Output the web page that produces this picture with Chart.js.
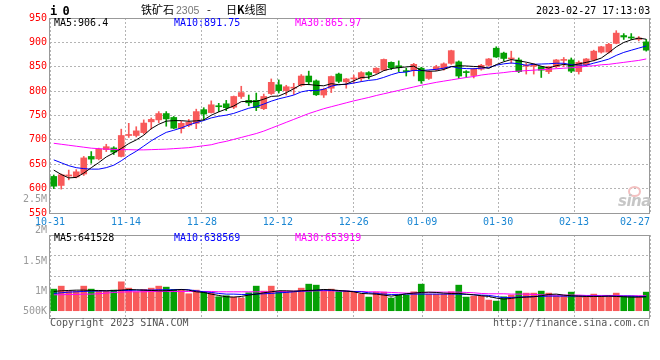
<!DOCTYPE html>
<html>
<head>
<meta charset="utf-8">
<script src="https://cdn.jsdelivr.net/npm/chart.js@4.4.0/dist/chart.umd.min.js"></script>
<style>
body { margin: 0; background: #fff; }
#wrap { position: relative; width: 660px; height: 360px; font-family: 'DejaVu Sans Mono', monospace; font-size: 10px; overflow: hidden; }
#wrap canvas { position: absolute; left: 0; }
.t { position: absolute; white-space: pre; line-height: 12px; }
.vl { position: absolute; left: 0; width: 47px; text-align: right; color: #9a9a9a; line-height: 12px; }
</style>
</head>
<body>
<div id="wrap">
  <canvas id="priceChart" width="660" height="232" style="top:0"></canvas>
  <canvas id="volumeChart" width="660" height="96" style="top:226px"></canvas>
  <div class="t" style="left:50px;top:4px;font-weight:bold;font-size:12px;line-height:14px;letter-spacing:-1px">i 0</div>
  <div class="t" style="left:141px;top:3px;font-family:'Noto Sans CJK SC';font-size:11px;line-height:13px">铁矿石</div>
  <div class="t" style="left:176px;top:4px;font-family:'Liberation Sans';font-size:10.5px;color:#777">2305</div>
  <div class="t" style="left:207px;top:3px;font-family:'Noto Sans CJK SC';font-size:11px;line-height:13px">-</div>
  <div class="t" style="left:226px;top:3px;font-family:'Noto Sans CJK SC';font-size:11px;line-height:13px">日<b>K</b>线图</div>
  <div class="t" style="left:536px;top:5px">2023-02-27 17:13:03</div>
  <div id="priceLegend"></div>
  <div id="volumeLegend"></div>
  <div id="volumeTicks"></div>
  <div class="t" style="left:628px;top:186px;width:9px;height:7px;border:2px solid #f3c0c0;border-radius:50%"></div>
  <div class="t" style="left:618px;top:193px;font-family:'DejaVu Sans';font-weight:bold;font-style:italic;font-size:15px;line-height:16px;color:#c6c6c6;letter-spacing:-0.5px">sina</div>
  <div class="t" style="left:50px;top:317px;color:#555">Copyright 2023 SINA.COM</div>
  <div class="t" style="left:493px;top:317px;color:#555">http://finance.sina.com.cn</div>
</div>
<script>
// trading days shown on the x axis
const days = ['10-31','11-01','11-02','11-03','11-04','11-07','11-08','11-09','11-10','11-11',
    '11-14','11-15','11-16','11-17','11-18','11-21','11-22','11-23','11-24','11-25',
    '11-28','11-29','11-30','12-01','12-02','12-05','12-06','12-07','12-08','12-09',
    '12-12','12-13','12-14','12-15','12-16','12-19','12-20','12-21','12-22','12-23',
    '12-26','12-27','12-28','12-29','12-30','01-03','01-04','01-05','01-06','01-09',
    '01-10','01-11','01-12','01-13','01-16','01-17','01-18','01-19','01-20','01-30',
    '01-31','02-01','02-02','02-03','02-06','02-07','02-08','02-09','02-10','02-13',
    '02-14','02-15','02-16','02-17','02-20','02-21','02-22','02-23','02-24','02-27'];
const dateTicks = ['10-31','11-14','11-28','12-12','12-26','01-09','01-30','02-13','02-27'];

const opens = [625,606.5,626,624,630,666,661,680,683.5,666, 709,709,715,737,741,754,746,723,730,734,
    762,756,769,774,767,789,781,781,764,795, 813,801,806,812,831,821,792,806,835,819,
    825,826,838,838,843,859,852,841,842,847, 826,844,846,857,860,839,832,845,853,888,
    878,866,864,851,851,850,840,850,863,864, 840,854,864,880,880,898,914,911,906,901];
const highs = [628,630,638,639,666,676,683,691,686,722, 734,727,741,745,758,758,748,738,742,763,
    766,780,775,781,790,810,792,796,794,825, 823,812,816,834,841,823,806,831,837,826,
    833,840,840,848,866,860,862,847,857,849, 842,853,858,884,862,842,847,855,867,891,
    880,882,868,857,856,851,851,865,869,868, 862,867,884,892,898,924,918,918,912,906];
const lows = [600,599,618,622,627,652,659,676,670,665, 705,706,712,722,735,728,723,714,727,723,
    741,755,758,760,764,785,770,760,762,793, 796,792,793,810,813,791,787,797,817,806,
    816,820,825,836,842,844,840,831,831,816, 824,842,843,855,826,828,827,843,851,869,
    862,857,838,835,835,828,836,848,850,838, 835,852,862,878,878,897,906,906,903,882];
const closes = [605,628.5,628,634.5,663,660.5,681,686,675,709, 711,718.5,734.5,742,754,743,724,734,736,758,
    753,772,768,766,789,797,776,766,789,818, 801,809,808,831,819,792.5,804,830,820,825,
    827,838,833,847,865,848,848,840,855,821, 840,850,856,883,831,838,845,853,866,870,
    867,868,840,852,852,843,850,864,865,841, 859,866,882,891,896,919,911,909,909,884];

const ma5 = [638,629,622,623,631.8,642.9,653.4,665,673.1,682.3, 692.4,699.9,709.6,723,732,738.4,739.5,739.4,738.2,739,
    741,750.6,757.4,763.4,769.6,778.4,779.2,778.8,783.4,789.2, 790,796.6,805,813.4,813.6,811.9,810.9,815.3,813.1,814.3,
    821.2,828,828.6,834,842,846.2,848.2,849.6,851.2,842.4, 840.8,841.2,844.4,850,852,851.6,850.6,850,846.6,854.4,
    860.2,864.8,862.2,859.4,855.8,851,847.4,852.2,854.8,852.6, 855.8,859,862.6,867.8,878.8,890.8,899.8,905.2,908.8,906.4];
const ma10 = [659,653,647,643,641,640,640,643,648,657.1, 667.7,676.7,687.3,698.1,707.2,715.4,719.7,724.5,730.6,735.5,
    739.7,745.1,748.4,750.8,754.3,759.7,764.9,768.1,773.4,779.4, 784.2,787.9,791.9,798.4,801.4,801,803.8,810.2,813.3,814,
    816.6,819.5,822,823.6,828.2,833.7,838.1,839.1,842.6,842.2, 843.5,844.7,847,850.6,847.2,846.2,845.9,847.2,848.3,853.2,
    855.9,857.7,856.1,853,855.1,855.6,856.1,857.2,857.1,854.2, 853.4,853.2,857.4,861.3,865.7,873.3,879.4,883.9,888.3,892.6];
const ma30 = [693,691,689,687,685,683,682,681,680.5,680, 680,679.5,679.5,680,680.5,681,682,683,684,686,
    688,690,694,697,701,705,709,713,718,724, 730,736,742,748,754,759,764,768,772,776,
    780,783.5,787,791,794.5,798,801.5,805,808.5,812, 815,818,820.5,823,825.5,828,830,833,835,836.5,
    838,840,841,842,843,844,845,846,847,848, 849,851,852,854,855,857,859,861,863,866];

// volume, thousand lots
const volumes = [910,1036,826,826,1036,910,826,826,868,1218, 952,798,896,952,1036,994,896,896,714,868,
    798,756,588,630,574,532,756,1036,826,1036, 826,798,798,952,1120,1078,868,910,812,840,
    812,700,574,784,784,532,658,658,798,1120, 700,700,700,798,1078,574,616,616,448,406,
    588,658,826,742,742,826,742,630,630,784, 630,630,700,616,616,742,616,616,616,784];
const volMa5 = [812,840,854,868,868,854,854,840,854,868, 896,882,868,854,840,840,868,896,868,798,
    770,700,644,588,574,602,658,700,756,798, 840,840,826,840,854,868,896,882,854,826,
    798,728,714,700,658,616,658,714,742,770, 784,770,742,728,728,700,672,630,602,532,
    490,518,560,574,588,630,686,700,658,630, 616,602,602,602,616,602,588,574,574,588];
const volMa10 = [728,756,784,798,812,826,826,840,840,854, 854,868,868,868,882,882,882,896,882,840,
    798,770,728,700,700,686,686,700,714,728, 756,770,798,826,840,854,868,854,840,826,
    812,798,756,728,700,686,686,700,700,700, 700,700,700,700,700,686,672,658,644,602,
    546,560,574,588,602,602,616,616,616,616, 616,616,616,616,616,616,616,616,602,602];
const volMa30 = [672,672,686,686,700,700,714,742,770,784, 798,798,798,812,812,812,812,812,812,812,
    812,812,798,798,798,798,798,798,798,798, 812,812,826,826,826,840,840,840,826,826,
    812,812,798,798,784,770,756,742,742,756, 770,784,784,784,784,770,756,728,714,714,
    714,700,700,700,686,672,658,658,658,658, 658,644,644,644,644,644,630,630,630,630];

const priceLegend = ['MA5:906.4', 'MA10:891.75', 'MA30:865.97'];
const volumeLegend = ['MA5:641528', 'MA10:638569', 'MA30:653919'];
const volumeTickLabels = ['2.5M', '2M', '1.5M', '1M', '500K'];

const upColor = '#f85a5a';
const downColor = '#05a005';
const maColors = ['#000000', '#0000ff', '#ff00ff'];
const gridColor = '#b4b4b4';
const frameColor = '#999999';
const dateColor = '#1b87d3';

Chart.defaults.font.family = 'DejaVu Sans Mono';
Chart.defaults.font.size = 10;

const tickIndex = dateTicks.map(d => days.indexOf(d));
const barColors = opens.map((o, i) => closes[i] >= o ? upColor : downColor);

// box round the plot
const framePlugin = {
    id: 'frame',
    afterDatasetsDraw(chart) {
        const a = chart.chartArea;
        const ctx = chart.ctx;
        const x0 = Math.round(a.left) - 0.5, x1 = Math.round(a.right) - 0.5;
        const y0 = Math.round(a.top) + 0.5, y1 = Math.round(a.bottom) + 0.5;
        ctx.save();
        ctx.strokeStyle = frameColor;
        ctx.lineWidth = 1;
        ctx.strokeRect(x0, y0, x1 - x0, y1 - y0);
        ctx.restore();
    }
};

function dateAxis(showLabels, height) {
    return {
        type: 'linear',
        position: 'bottom',
        min: 0,
        max: days.length - 1,
        offset: false,
        afterBuildTicks: s => { s.ticks = tickIndex.map(v => ({ value: v })); },
        afterFit: s => { s.height = height; s.paddingLeft = 0; s.paddingRight = 0; },
        grid: { color: gridColor, drawTicks: false, offset: false },
        border: { display: false, dash: [2, 2] },
        ticks: {
            display: showLabels,
            autoSkip: false,
            maxRotation: 0,
            padding: 3,
            color: dateColor,
            callback: v => v === days.length - 1 ? days[v] + '     ' : days[v]
        }
    };
}

function maLine(label, values, color) {
    return {
        type: 'line',
        label: label,
        data: values,
        borderColor: color,
        borderWidth: 1,
        pointRadius: 0,
        tension: 0,
        order: 0
    };
}

function writeLegend(id, texts, top) {
    const lefts = [54, 174, 295];
    document.getElementById(id).innerHTML = texts.map((t, i) =>
        '<div class="t" style="left:' + lefts[i] + 'px;top:' + top + 'px;color:' + maColors[i] + '">' + t + '</div>').join('');
}

function managePriceChart() {
    //candles
    let ctxP = document.getElementById('priceChart').getContext('2d');
    let priceChart = new Chart(ctxP, {
        type: 'bar',
        data: {
            labels: days,
            datasets: [
                maLine('MA5', ma5, maColors[0]),
                maLine('MA10', ma10, maColors[1]),
                maLine('MA30', ma30, maColors[2]),
                {
                    label: 'body',
                    data: opens.map((o, i) => [o, closes[i]]),
                    backgroundColor: barColors,
                    barThickness: 6,
                    minBarLength: 1,
                    grouped: false,
                    order: 1
                },
                {
                    label: 'wick',
                    data: lows.map((l, i) => [l, highs[i]]),
                    backgroundColor: barColors,
                    barThickness: 1,
                    grouped: false,
                    order: 2
                }
            ]
        },
        options: {
            responsive: false,
            animation: false,
            events: [],
            layout: { padding: { left: 0, right: 10, top: 18, bottom: 0 } },
            plugins: { legend: { display: false }, tooltip: { enabled: false } },
            scales: {
                x: { type: 'category', offset: true, display: false },
                xg: dateAxis(true, 19),
                y: {
                    min: 550,
                    max: 950,
                    afterFit: s => { s.width = 50; },
                    grid: { color: gridColor, drawTicks: false },
                    border: { display: false, dash: [2, 2] },
                    ticks: { stepSize: 50, color: '#ff0000', padding: 3 }
                }
            }
        },
        plugins: [framePlugin]
    });
    writeLegend('priceLegend', priceLegend, 17);
}

function manageVolumeChart() {
    //volume bars
    let ctxV = document.getElementById('volumeChart').getContext('2d');
    let volumeChart = new Chart(ctxV, {
        type: 'bar',
        data: {
            labels: days,
            datasets: [
                maLine('MA5', volMa5, maColors[0]),
                maLine('MA10', volMa10, maColors[1]),
                maLine('MA30', volMa30, maColors[2]),
                {
                    label: 'volume',
                    data: volumes,
                    backgroundColor: barColors,
                    barThickness: 6,
                    grouped: false,
                    order: 1
                }
            ]
        },
        options: {
            responsive: false,
            animation: false,
            events: [],
            layout: { padding: { left: 0, right: 10, top: 9, bottom: 4 } },
            plugins: { legend: { display: false }, tooltip: { enabled: false } },
            scales: {
                x: { type: 'category', offset: true, display: false },
                xg: dateAxis(false, 0),
                y: {
                    min: -307,
                    max: 3192,
                    afterFit: s => { s.width = 50; },
                    grid: { color: gridColor, drawTicks: false },
                    border: { display: false, dash: [2, 2] },
                    ticks: { count: 5, display: false }
                }
            }
        },
        plugins: [framePlugin]
    });
    writeLegend('volumeLegend', volumeLegend, 232);
    const tops = [193, 224, 254.5, 284.5, 304.5];
    document.getElementById('volumeTicks').innerHTML = volumeTickLabels.map((t, i) =>
        '<div class="vl" style="top:' + tops[i] + 'px">' + t + '</div>').join('');
}

managePriceChart();
manageVolumeChart();
</script>
</body>
</html>
